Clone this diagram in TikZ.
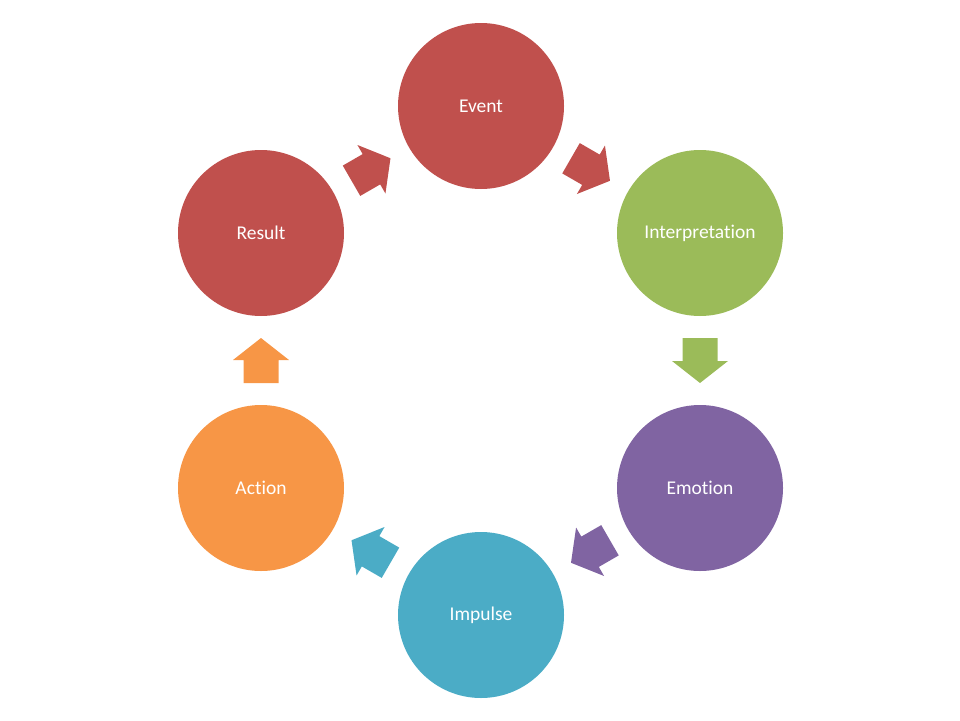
\documentclass[tikz,border=0pt]{standalone}
\usepackage{fontspec}
\setmainfont{Carlito}[Ligatures={NoCommon}]
\usetikzlibrary{calc}
\definecolor{cred}{HTML}{C0504D}
\definecolor{cgreen}{HTML}{9BBB59}
\definecolor{cpurple}{HTML}{8064A2}
\definecolor{cteal}{HTML}{4BACC6}
\definecolor{corange}{HTML}{F79646}
\tikzset{
  stage/.style={circle, minimum size=166pt, inner sep=0pt, text=white,
    font=\fontsize{19.5}{22}\selectfont},
  pics/blockarrow/.style={code={
    \fill[#1] (-22.5,-17.5) -- (0.5,-17.5) -- (0.5,-28) -- (22.5,0)
      -- (0.5,28) -- (0.5,17.5) -- (-22.5,17.5) -- cycle;}}
}
\begin{document}
\begin{tikzpicture}[x=1pt,y=-1pt]
  \useasboundingbox (0,0) rectangle (960,720);
  \node[stage, fill=cred]    (ev) at (481,106) {Event};
  \node[stage, fill=cgreen]  (in) at (700,233) {Interpretation};
  \node[stage, fill=cpurple] (em) at (700,488) {Emotion};
  \node[stage, fill=cteal]   (im) at (481,615) {Impulse};
  \node[stage, fill=corange] (ac) at (261,488) {Action};
  \node[stage, fill=cred]    (re) at (261,233) {Result};
  \pic[rotate=-30]  at ($(ev)!0.5!(in)$) {blockarrow=cred};
  \pic[rotate=-90]  at ($(in)!0.5!(em)$) {blockarrow=cgreen};
  \pic[rotate=-150] at ($(em)!0.5!(im)$) {blockarrow=cpurple};
  \pic[rotate=150]  at ($(im)!0.5!(ac)$) {blockarrow=cteal};
  \pic[rotate=90]   at ($(ac)!0.5!(re)$) {blockarrow=corange};
  \pic[rotate=30]   at ($(re)!0.5!(ev)$) {blockarrow=cred};
\end{tikzpicture}
\end{document}
